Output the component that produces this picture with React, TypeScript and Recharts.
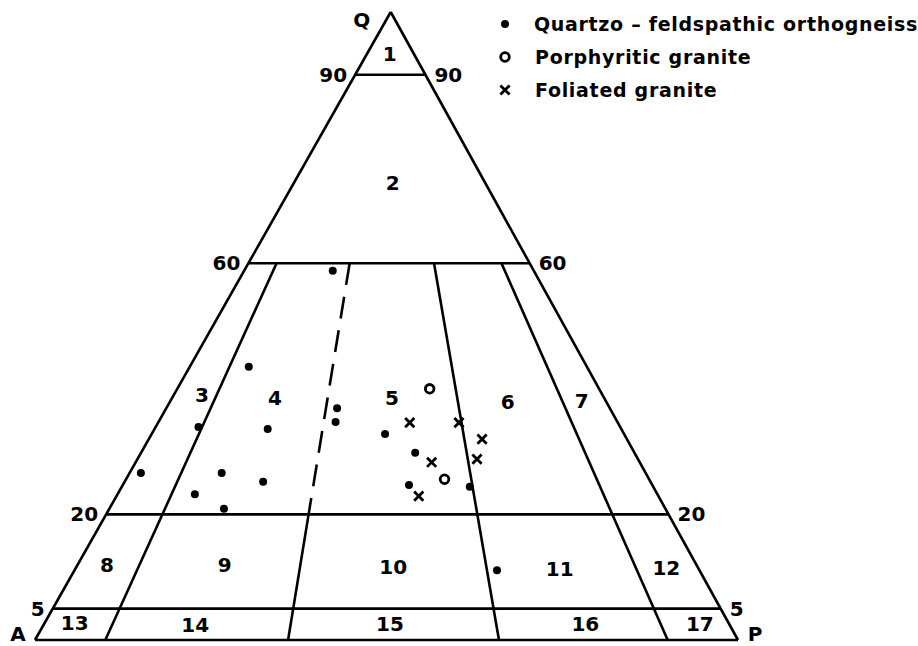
import { ScatterChart, Scatter, XAxis, YAxis, ReferenceLine, Legend } from "recharts";

// Modal compositions, each row is [Q, A, P] in %
const orthogneiss: [number, number, number][] = [
  [58.8, 28.6, 12.6],
  [43.5, 48.1, 8.4],
  [33.9, 60.0, 6.1],
  [33.6, 50.3, 16.1],
  [36.9, 38.8, 24.3],
  [34.7, 40.1, 25.2],
  [26.6, 71.8, 1.6],
  [26.6, 60.3, 13.1],
  [25.2, 55.1, 19.7],
  [23.2, 65.8, 11.0],
  [20.9, 62.8, 16.3],
  [32.8, 34.0, 33.2],
  [29.8, 31.2, 39.0],
  [24.7, 34.6, 40.7],
  [24.4, 26.1, 49.5],
  [11.1, 28.8, 60.1],
];

const porphyritic: [number, number, number][] = [
  [40.0, 24.1, 35.9],
  [25.6, 29.1, 45.3],
];

const foliated: [number, number, number][] = [
  [34.6, 29.6, 35.8],
  [34.6, 22.6, 42.8],
  [32.0, 20.6, 47.4],
  [28.3, 29.6, 42.1],
  [28.8, 22.9, 48.3],
  [22.9, 34.1, 43.0],
];

const seriesNames = ["Quartzo – feldspathic orthogneiss", "Porphyritic granite", "Foliated granite"];

// Field boundaries: Q levels and plagioclase ratios 100*P/(A+P)
const qLevels = [90, 60, 20, 5];
const plagRatios = [10, 36, 66, 90];
const dashedRatio = 36;

// Field numbers placed at [Q, 100*P/(A+P)]
const fieldNames = ["1", "2", "3", "4", "5", "6", "7", "8", "9", "10", "11", "12", "13", "14", "15", "16", "17"];
const fieldAnchors: [number, number][] = [
  [93.3, 48.5], [72.8, 51.7],
  [39, 6.6], [38.5, 23.8], [38.5, 50.9], [37.9, 77.4], [38, 94.4],
  [11.9, 4.8], [11.9, 23.8], [11.6, 51], [11.3, 77.7], [11.5, 94.9],
  [2.7, 4.4], [2.4, 22.1], [2.5, 50.5], [2.5, 79], [2.5, 95.7],
];

const W = 918;
const H = 646;
// triangle corners on the page
const LEFT = 35;
const RIGHT = 738;
const BASE = 640;
const APEX = 12;
const SKEW = 0.506; // apex sits a little right of the base midpoint

const xDomain = [-LEFT / (RIGHT - LEFT), (W - LEFT) / (RIGHT - LEFT)];
const yDomain = [-(H - BASE) / (BASE - APEX), BASE / (BASE - APEX)];

const toXY = (q: number, a: number, p: number) => {
  const s = q + a + p;
  return { x: (p + q * SKEW) / s, y: q / s };
};

// point at a given Q level and plagioclase ratio
const atRatio = (q: number, r: number) => {
  const rest = 100 - q;
  return toXY(q, rest * (1 - r / 100), (rest * r) / 100);
};

const segments: { from: { x: number; y: number }; to: { x: number; y: number }; dashed?: boolean }[] = [
  { from: toXY(0, 100, 0), to: toXY(0, 0, 100) },
  { from: toXY(0, 100, 0), to: toXY(100, 0, 0) },
  { from: toXY(0, 0, 100), to: toXY(100, 0, 0) },
  ...qLevels.map((q) => ({ from: atRatio(q, 0), to: atRatio(q, 100) })),
  ...plagRatios.flatMap((r) =>
    r === dashedRatio
      ? [
          { from: atRatio(60, r), to: atRatio(20, r), dashed: true },
          { from: atRatio(20, r), to: atRatio(0, r) },
        ]
      : [{ from: atRatio(60, r), to: atRatio(0, r) }]
  ),
];

const textStyle = { fontFamily: "DejaVu Sans", fontWeight: 700, fontSize: 20, fill: "#000" };

const fieldLabels = fieldNames.map((text, i) => ({ ...atRatio(fieldAnchors[i][0], fieldAnchors[i][1]), text, anchor: "middle", dx: 0, dy: 0 }));

const sideLabels = [
  ...qLevels.map((q) => ({ ...atRatio(q, 0), text: String(q), anchor: "end", dx: -8, dy: 0 })),
  ...qLevels.map((q) => ({ ...atRatio(q, 100), text: String(q), anchor: "start", dx: 9, dy: 0 })),
  { ...toXY(100, 0, 0), text: "Q", anchor: "middle", dx: -29, dy: 8 },
  { ...toXY(0, 100, 0), text: "A", anchor: "middle", dx: -17, dy: -6 },
  { ...toXY(0, 0, 100), text: "P", anchor: "middle", dx: 17, dy: -6 },
];

const Dot = ({ cx, cy }: any) => <circle cx={cx} cy={cy} r={4} fill="#000" />;
const Ring = ({ cx, cy }: any) => <circle cx={cx} cy={cy} r={4.3} fill="#fff" stroke="#000" strokeWidth={2.8} />;
const Cross = ({ cx, cy }: any) => {
  const s = 4.6;
  return (
    <path
      d={`M${cx - s},${cy - s}L${cx + s},${cy + s}M${cx + s},${cy - s}L${cx - s},${cy + s}`}
      stroke="#000"
      strokeWidth={2.8}
      fill="none"
    />
  );
};

const Label = ({ cx, cy, payload }: any) => (
  <text
    x={cx + payload.dx}
    y={cy + payload.dy}
    textAnchor={payload.anchor}
    dominantBaseline="central"
    style={textStyle}
  >
    {payload.text}
  </text>
);

const markers = [Dot, Ring, Cross];

const renderLegend = ({ payload }: any) => (
  <div style={{ fontFamily: "DejaVu Sans", fontWeight: 700, fontSize: 19, letterSpacing: 0.7, color: "#000" }}>
    {seriesNames
      .filter((name) => (payload || []).some((entry: any) => entry.value === name))
      .map((name) => {
        const Marker = markers[seriesNames.indexOf(name)];
        return (
          <div key={name} style={{ display: "flex", alignItems: "center", height: 33 }}>
            <svg width={16} height={16}>
              <Marker cx={8} cy={8} />
            </svg>
            <span style={{ marginLeft: 22, whiteSpace: "nowrap" }}>{name}</span>
          </div>
        );
      })}
  </div>
);

export default function App() {
  return (
    <div style={{ position: "absolute", left: 0, top: 0, width: W, height: H, background: "#fff" }}>
      <ScatterChart width={W} height={H} margin={{ top: 0, right: 0, bottom: 0, left: 0 }}>
        <XAxis type="number" dataKey="x" domain={xDomain} allowDataOverflow hide />
        <YAxis type="number" dataKey="y" domain={yDomain} allowDataOverflow hide />
        {segments.map((s, i) => (
          <ReferenceLine
            key={i}
            segment={[s.from, s.to]}
            stroke="#000"
            strokeWidth={2.6}
            strokeDasharray={s.dashed ? "22 12" : undefined}
            ifOverflow="visible"
          />
        ))}
        <Scatter name={seriesNames[0]} data={orthogneiss.map(([q, a, p]) => toXY(q, a, p))} shape={Dot} isAnimationActive={false} />
        <Scatter name={seriesNames[1]} data={porphyritic.map(([q, a, p]) => toXY(q, a, p))} shape={Ring} isAnimationActive={false} />
        <Scatter name={seriesNames[2]} data={foliated.map(([q, a, p]) => toXY(q, a, p))} shape={Cross} isAnimationActive={false} />
        <Scatter name="fields" data={fieldLabels} shape={Label} legendType="none" isAnimationActive={false} />
        <Scatter name="edges" data={sideLabels} shape={Label} legendType="none" isAnimationActive={false} />
        <Legend
          layout="vertical"
          align="center"
          verticalAlign="middle"
          content={renderLegend}
          wrapperStyle={{ left: 497, top: 7, width: 421 }}
        />
      </ScatterChart>
    </div>
  );
}
